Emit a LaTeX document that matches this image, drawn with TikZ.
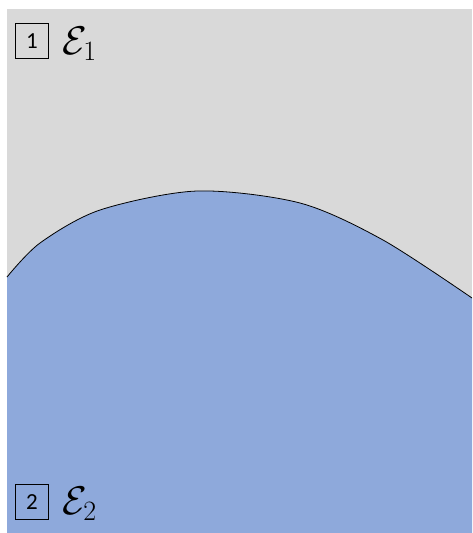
\RequirePackage{fix-cm}
\documentclass[tikz,border=0pt]{standalone}
\usepackage{fontspec}
\newfontfamily\boxfont{Carlito}
\definecolor{upgray}{HTML}{D9D9D9}
\definecolor{lowblue}{HTML}{8EA9DB}
\begin{document}
\begin{tikzpicture}[x=1pt, y=-1pt,
  tag/.style={draw, thick, minimum width=33pt, minimum height=35pt, inner sep=0pt, font=\boxfont\fontsize{23}{26}\selectfont},
  lbl/.style={anchor=west, inner sep=0pt, font=\fontsize{40}{44}\selectfont}]
\useasboundingbox (0,0) rectangle (472,533);
% regions
\fill[upgray] (7,9) rectangle (472,533);
\fill[lowblue] (7,533) -- (7,277)
  -- plot[smooth, tension=0.5] coordinates {(7,277) (40,243) (100,210) (197,191) (300,203) (383,240) (472,298)}
  -- (472,533) -- cycle;
\draw[line width=0.8pt] plot[smooth, tension=0.5] coordinates {(7,277) (40,243) (100,210) (197,191) (300,203) (383,240) (472,298)};
% labels
\node[tag] (t1) at (32,41) {1};
\node[lbl] (e1) at (62,44) {$\mathcal{E}_1$};
\node[tag] (t2) at (32,502) {2};
\node[lbl] (e2) at (62,504) {$\mathcal{E}_2$};
\end{tikzpicture}
\end{document}
